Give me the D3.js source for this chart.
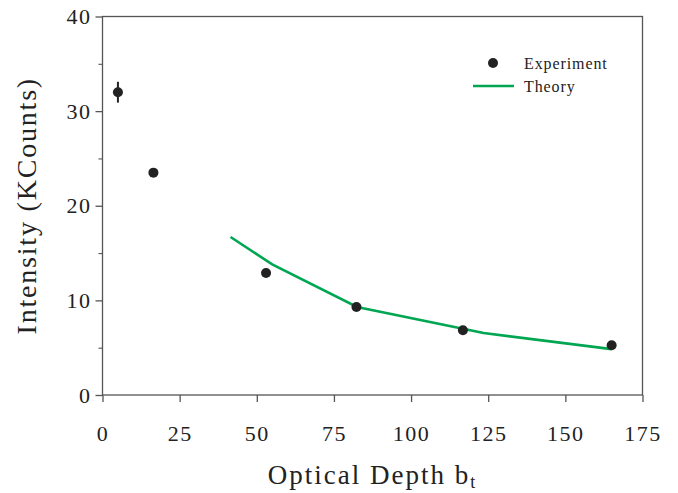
<!DOCTYPE html>
<html><head><meta charset="utf-8">
<script src="https://cdn.jsdelivr.net/npm/d3@7"></script>
<style>body{margin:0;background:#fff}svg{display:block}</style>
</head><body>
<svg id="c" width="678" height="493"></svg>
<script>
const expX = [5, 16.5, 53, 82.3, 116.8, 165];
const expY = [32, 23.5, 12.9, 9.3, 6.85, 5.25];
const expErr = [1.1, 0.35, 0.2, 0.2, 0.2, 0.2];
const theoryX = [41.5, 55, 82.5, 123.5, 165];
const theoryY = [16.7, 13.8, 9.3, 6.55, 4.85];
const xTicks = [0, 25, 50, 75, 100, 125, 150, 175];
const yTicks = [0, 10, 20, 30, 40];
const yMinor = [5, 15, 25, 35];

const svg = d3.select("#c");
const L = 102.5, R = 642.5, T = 16.5, B = 395;
const x = d3.scaleLinear().domain([0, 175]).range([L, R]);
const y = d3.scaleLinear().domain([0, 40]).range([B, T]);
const axisColor = "#555";
const font = "Liberation Serif, Times New Roman, serif";

// frame
svg.append("rect").attr("x", L).attr("y", T).attr("width", R - L).attr("height", B - T)
  .attr("fill", "none").attr("stroke", axisColor).attr("stroke-width", 1.3);

// x axis
const xa = svg.append("g").attr("transform", `translate(0,${B})`)
  .call(d3.axisBottom(x).tickValues(xTicks).tickSize(7).tickPadding(23));
xa.select(".domain").remove();
xa.selectAll("line").attr("stroke", axisColor).attr("stroke-width", 1.3);
xa.selectAll("text").attr("font-family", font).attr("font-size", 22).attr("fill", "#222")
  .attr("letter-spacing", 1.5);

// y axis
const ya = svg.append("g").attr("transform", `translate(${L},0)`)
  .call(d3.axisLeft(y).tickValues(yTicks).tickSize(7).tickPadding(4));
ya.select(".domain").remove();
ya.selectAll("line").attr("stroke", axisColor).attr("stroke-width", 1.3);
ya.selectAll("text").attr("font-family", font).attr("font-size", 22).attr("fill", "#222")
  .attr("letter-spacing", 1.5);
const ym = svg.append("g").attr("transform", `translate(${L},0)`)
  .call(d3.axisLeft(y).tickValues(yMinor).tickSize(4).tickFormat(""));
ym.select(".domain").remove();
ym.selectAll("line").attr("stroke", axisColor).attr("stroke-width", 1.1);

// theory line
const line = d3.line().x(d => x(d[0])).y(d => y(d[1]));
svg.append("path").datum(theoryX.map((v, i) => [v, theoryY[i]]))
  .attr("d", line).attr("fill", "none").attr("stroke", "#00a651").attr("stroke-width", 2.6);

// error bars
svg.selectAll(".err").data(expX).enter().append("line")
  .attr("x1", (d) => x(d)).attr("x2", (d) => x(d))
  .attr("y1", (d, i) => y(expY[i] - expErr[i])).attr("y2", (d, i) => y(expY[i] + expErr[i]))
  .attr("stroke", "#222").attr("stroke-width", 2);

// experiment points
svg.selectAll(".pt").data(expX).enter().append("circle")
  .attr("cx", d => x(d)).attr("cy", (d, i) => y(expY[i])).attr("r", 5)
  .attr("fill", "#222");

// legend
svg.append("circle").attr("cx", 493).attr("cy", 63).attr("r", 5).attr("fill", "#222");
svg.append("text").attr("x", 524).attr("y", 69).text("Experiment")
  .attr("font-family", font).attr("font-size", 16).attr("fill", "#222").attr("letter-spacing", 0.9);
svg.append("line").attr("x1", 473).attr("x2", 514).attr("y1", 86).attr("y2", 86)
  .attr("stroke", "#00a651").attr("stroke-width", 2.6);
svg.append("text").attr("x", 524).attr("y", 92).text("Theory")
  .attr("font-family", font).attr("font-size", 16).attr("fill", "#222").attr("letter-spacing", 0.9);

// axis titles
svg.append("text").attr("transform", `translate(36,${(T + B) / 2}) rotate(-90)`)
  .attr("text-anchor", "middle").text("Intensity (KCounts)")
  .attr("font-family", font).attr("font-size", 28).attr("fill", "#222").attr("letter-spacing", 1.8);
const xt = svg.append("text").attr("x", (L + R) / 2).attr("y", 484)
  .attr("text-anchor", "middle").attr("font-family", font).attr("font-size", 27).attr("fill", "#222")
  .attr("letter-spacing", 2);
xt.append("tspan").text("Optical Depth b");
xt.append("tspan").attr("font-size", 18).attr("dy", 4).text("t");
</script>
</body></html>
